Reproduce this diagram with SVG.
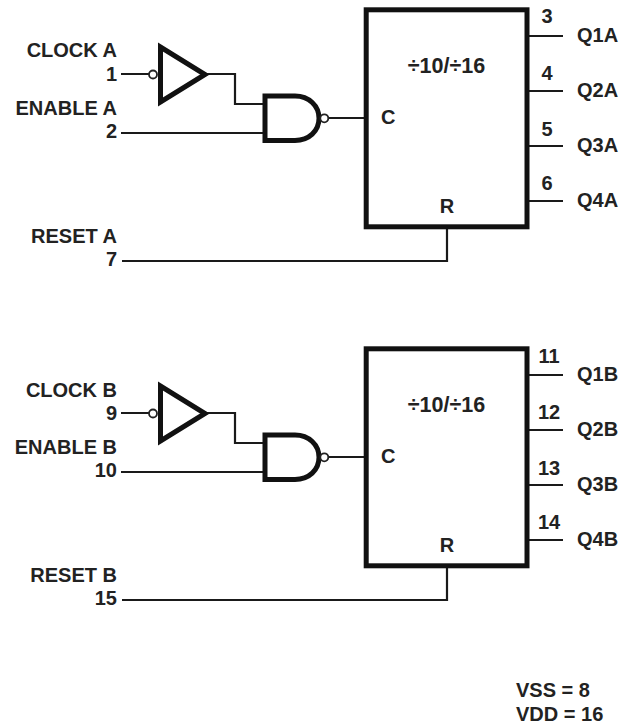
<svg xmlns="http://www.w3.org/2000/svg" width="621" height="728" viewBox="0 0 621 728">
<style>
text{font-family:"Liberation Sans",Arial,sans-serif;font-weight:700;font-size:20px;fill:#222}
.e{text-anchor:end}.m{text-anchor:middle}
.d{font-size:21.500px}
.w{fill:none;stroke:#1a1a1a;stroke-width:2.200}
.b{fill:#fff;stroke:#111;stroke-width:5}
.g{fill:#fff;stroke:#111;stroke-width:5}
.o{fill:#fff;stroke:#222;stroke-width:1.800}
</style>
<defs>
<path id="wires" class="w" d="M121 74H149M207 74H235V104H264M121 133H264M328 118H365M122 261H447V228M528 36H563M528 91H563M528 146H563M528 201H563"/>
<g id="inv"><path class="g" d="M160.500 47V102L205 74.500Z"/><circle class="o" cx="153" cy="74.500" r="4"/></g>
<g id="nand"><path class="g" d="M265 96H295C309 96 319 106 319 118.300C319 131 309 140.500 295 140.500H265Z"/><circle class="o" cx="324.300" cy="118.300" r="4"/></g>
<rect id="box" class="b" x="366.200" y="9.800" width="160.800" height="217"/>
</defs>
<g id="connectors"><use href="#wires"/><use href="#wires" y="339"/></g>
<g id="inverter-a"><use href="#inv"/></g>
<g id="nand-a"><use href="#nand"/></g>
<g id="counter-a"><use href="#box"/>
<text class="m d" x="446.500" y="73">÷10/÷16</text>
<text x="381" y="124">C</text>
<text class="m" x="447" y="213">R</text>
</g>
<g id="labels-a">
<text class="e" x="117" y="57">CLOCK A</text><text class="e" x="117" y="81">1</text>
<text class="e" x="117" y="115">ENABLE A</text><text class="e" x="117" y="138">2</text>
<text class="e" x="117" y="243">RESET A</text><text class="e" x="117" y="266">7</text>
<text class="m" x="547" y="23">3</text><text x="577" y="42">Q1A</text>
<text class="m" x="547" y="80">4</text><text x="577" y="97">Q2A</text>
<text class="m" x="547" y="136">5</text><text x="577" y="152">Q3A</text>
<text class="m" x="547" y="190">6</text><text x="577" y="207">Q4A</text>
</g>
<g id="inverter-b"><use href="#inv" y="339"/></g>
<g id="nand-b"><use href="#nand" y="339"/></g>
<g id="counter-b"><use href="#box" y="339"/>
<text class="m d" x="446.500" y="412">÷10/÷16</text>
<text x="381" y="463">C</text>
<text class="m" x="447" y="552">R</text>
</g>
<g id="labels-b">
<text class="e" x="117" y="397">CLOCK B</text><text class="e" x="117" y="420">9</text>
<text class="e" x="117" y="454">ENABLE B</text><text class="e" x="117" y="477">10</text>
<text class="e" x="117" y="582">RESET B</text><text class="e" x="117" y="605">15</text>
<text class="m" x="549" y="363">11</text><text x="577" y="381">Q1B</text>
<text class="m" x="549" y="419">12</text><text x="577" y="436">Q2B</text>
<text class="m" x="549" y="475">13</text><text x="577" y="491">Q3B</text>
<text class="m" x="549" y="529">14</text><text x="577" y="546">Q4B</text>
</g>
<g id="power">
<text x="516" y="697">VSS = 8</text>
<text x="516" y="721">VDD = 16</text>
</g>
</svg>
